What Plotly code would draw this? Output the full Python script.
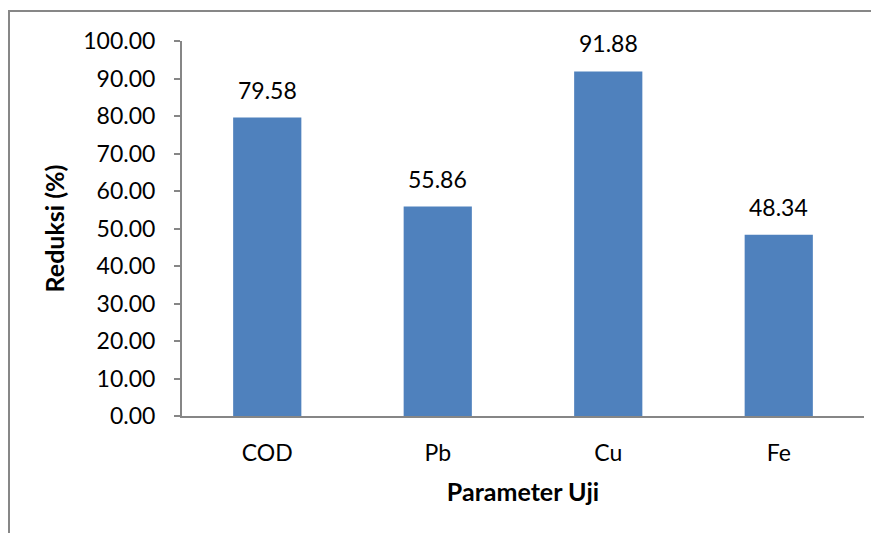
import plotly.graph_objects as go

categories = ["COD", "Pb", "Cu", "Fe"]
values = [79.58, 55.86, 91.88, 48.34]
labels = ["79.58", "55.86", "91.88", "48.34"]
y_ticks = [0, 10, 20, 30, 40, 50, 60, 70, 80, 90, 100]

FONT = "Lato"
SIZE = 23
TSIZE = 25
fig = go.Figure(go.Bar(
    x=categories, y=values,
    marker=dict(color="#4F81BD", line=dict(width=0)),
    cliponaxis=False, hoverinfo="x+y",
))

annotations = [dict(x=c, y=v, text=t, showarrow=False, yanchor="bottom",
                    yshift=12, font=dict(family=FONT, size=SIZE, color="black"))
               for c, v, t in zip(categories, values, labels)]

# page has an 8px body margin; figure is offset accordingly
fig.update_layout(
    width=871, height=525,
    margin=dict(l=174, r=15, t=33, b=117),
    plot_bgcolor="white", paper_bgcolor="white",
    bargap=0.6, showlegend=False,
    font=dict(family=FONT, size=SIZE, color="black"),
    annotations=annotations,
    shapes=[dict(type="rect", xref="paper", yref="paper",
                 x0=(1 - 174) / 682, x1=1.2, y0=-0.6, y1=(408 - 3) / 375,
                 line=dict(color="#878787", width=2), layer="below")],
)
fig.update_xaxes(showline=True, linecolor="#868686", linewidth=2, ticks="",
                 ticklabelstandoff=15, tickfont=dict(size=SIZE),
                 title=dict(text="<b>Parameter Uji</b>", font=dict(size=TSIZE), standoff=19))
fig.update_yaxes(range=[0, 100], tickvals=y_ticks, tickformat=".2f",
                 showline=True, linecolor="#868686", linewidth=2, showgrid=False,
                 ticks="outside", ticklen=6, tickcolor="#868686", tickwidth=2,
                 ticklabelstandoff=14, tickfont=dict(size=SIZE), zeroline=False,
                 title=dict(text="<b>Reduksi (%)</b>", font=dict(size=TSIZE), standoff=12))

fig.write_html("out.html")
